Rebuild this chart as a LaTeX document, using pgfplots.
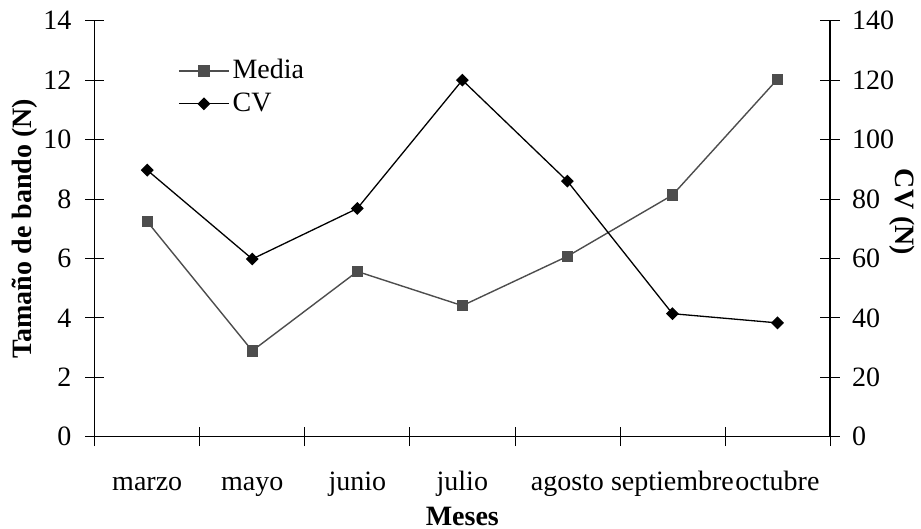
\documentclass[border=0pt]{standalone}
\usepackage{pgfplots}
\pgfplotsset{compat=1.18}
\usepackage{fontspec}
\setmainfont{Liberation Serif}
\definecolor{mediagray}{RGB}{77,77,77}
\pgfplotsset{
  common/.style={
    at={(94.7pt,92.3pt)}, anchor=south west,
    scale only axis, width=735.3pt, height=416pt,
    xmin=-0.5, xmax=6.5,
    tick align=center, major tick length=19pt,
    tick style={black, line width=0.7pt},
    axis line style={-, black, line width=1.4pt},
    /pgf/number format/assume math mode=true,
    clip=false,
  }
}
\begin{document}
\fontsize{28}{33}\selectfont
\begin{tikzpicture}
\path[use as bounding box] (0pt,0pt) rectangle (921pt,529pt);
\begin{axis}[common,
  ymin=0, ymax=14, ytick={0,2,...,14},
  axis y line*=left, axis x line*=bottom,
  xtick={-0.5,0.5,...,6.5},
  x tick label as interval,
  xticklabels={marzo,mayo,junio,julio,agosto,septiembre,octubre},
  xticklabel style={anchor=base, inner sep=0pt, yshift=-44.8pt},
  yticklabel style={anchor=east, inner sep=0pt, xshift=-13.5pt},
  ylabel={\textbf{Tamaño de bando (N)}},
  xlabel={\textbf{Meses}},
  every axis y label/.style={at={(axis description cs:-0.0952,0.5)}, anchor=center, rotate=90},
  every axis x label/.style={at={(axis description cs:0.5,-0.2125)}, anchor=base, inner sep=0pt},
  legend style={at={(axis description cs:0.1133,0.9196)}, anchor=north west,
    draw=none, fill=none, inner sep=0pt, row sep=0pt,
    nodes={inner sep=3pt, text height=21pt, text depth=6pt}},
  legend cell align=left,
  legend image code/.code={\draw[mark repeat=2,mark phase=2,#1] plot coordinates {(0pt,0pt)(25pt,0pt)(50pt,0pt)};},
]
\addplot[mediagray, line width=1.4pt, mark=square*, mark size=5pt, mark options={solid, fill=mediagray, draw=mediagray}]
  coordinates {(0,7.24) (1,2.89) (2,5.56) (3,4.41) (4,6.07) (5,8.13) (6,12.03)};
\addlegendentry{Media}
\addlegendimage{black, line width=1.3pt, mark=square*, mark size=3.9pt, mark options={solid, rotate=45, fill=black}}
\addlegendentry{CV}
\end{axis}
\begin{axis}[common,
  ymin=0, ymax=140, ytick={0,20,...,140},
  axis y line*=right, axis x line=none,
  yticklabel style={anchor=west, inner sep=0pt, xshift=12.5pt},
  ylabel={\textbf{CV (N)}},
  every axis y label/.style={at={(axis description cs:1.098,0.54)}, anchor=center, rotate=-90},
]
\addplot[black, line width=1.3pt, mark=square*, mark size=3.9pt, mark options={solid, rotate=45, fill=black}]
  coordinates {(0,89.7) (1,59.8) (2,76.8) (3,120) (4,86.0) (5,41.4) (6,38.3)};
\end{axis}
\end{tikzpicture}
\end{document}
